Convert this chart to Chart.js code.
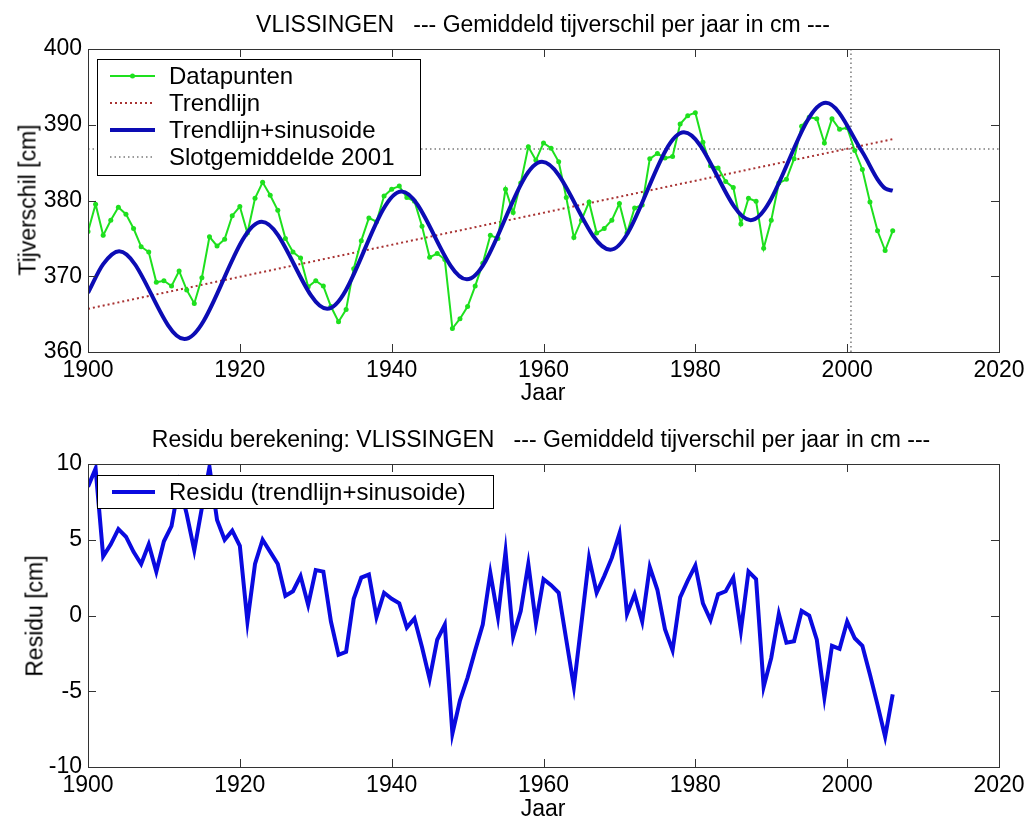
<!DOCTYPE html>
<html>
<head>
<meta charset="utf-8">
<script src="https://cdn.jsdelivr.net/npm/chart.js@4.4.1/dist/chart.umd.min.js"></script>
<style>
  body { margin: 0; background: #fff; width: 1036px; height: 828px; position: relative; overflow: hidden;
         font-family: "Liberation Sans", Arial, sans-serif; }
  canvas { position: absolute; left: 0; }
  .lbl { position: absolute; white-space: pre; font-size: 23px; line-height: 1; color: #000;
         transform: translate(-50%, -50%); }
  .rot { transform: translate(-50%, -50%) rotate(-90deg); }
</style>
</head>
<body>
<canvas id="topChart" width="1036" height="414" style="top:0"></canvas>
<canvas id="bottomChart" width="1036" height="414" style="top:414px"></canvas>

<div class="lbl" style="left:543px;top:24px">VLISSINGEN   --- Gemiddeld tijverschil per jaar in cm ---</div>
<div class="lbl" style="left:543px;top:392px">Jaar</div>
<div class="lbl rot" style="left:28px;top:200px">Tijverschil [cm]</div>
<div class="lbl" style="left:541px;top:439px">Residu berekening: VLISSINGEN   --- Gemiddeld tijverschil per jaar in cm ---</div>
<div class="lbl" style="left:543px;top:808px">Jaar</div>
<div class="lbl rot" style="left:35px;top:616px">Residu [cm]</div>

<script>
// Yearly mean tidal range, Vlissingen
const firstYear = 1900;
const tijverschil = [
  375.9, 379.5, 375.4, 377.4, 379.1, 378.2, 376.3, 373.9, 373.2, 369.2, // 1900-1909
  369.4, 368.7, 370.7, 368.2, 366.4, 369.8, 375.2, 374.0, 374.9, 378.0, // 1910-1919
  379.2, 375.7, 380.3, 382.4, 380.7, 378.7, 375.0, 373.2, 372.4, 368.6, // 1920-1929
  369.4, 368.7, 366.0, 364.0, 365.6, 371.0, 374.7, 377.7, 377.2, 380.6, // 1930-1939
  381.5, 381.9, 380.4, 379.9, 376.6, 372.5, 373.0, 372.2, 363.1, 364.4, // 1940-1949
  366.0, 368.7, 371.7, 375.4, 375.0, 381.5, 378.4, 382.3, 387.1, 385.3, // 1950-1959
  387.6, 386.9, 385.1, 380.4, 375.1, 377.4, 379.8, 375.7, 376.3, 377.4, // 1960-1969
  379.6, 375.7, 379.0, 379.4, 385.5, 386.2, 385.6, 385.8, 390.1, 391.2, // 1970-1979
  391.6, 387.7, 384.6, 384.3, 382.5, 381.7, 376.9, 380.3, 379.9, 373.7, // 1980-1989
  377.4, 382.3, 382.8, 385.5, 389.8, 391.0, 390.8, 387.6, 390.8, 389.4, // 1990-1999
  389.6, 386.6, 384.1, 379.8, 376.0, 373.4, 376.0                       // 2000-2006
];

// Residual of the trend+sinusoid fit, same years
const residu = [
   8.5,  9.7,  3.9,  4.7,  5.7,  5.2,  4.2,  3.4,  4.7,  2.9,
   4.9,  5.9,  8.7,  6.7,  4.3,  7.1,  9.8,  6.3,  5.0,  5.6,
   4.6, -0.4,  3.4,  5.0,  4.2,  3.4,  1.3,  1.6,  2.6,  0.7,
   3.0,  2.9, -0.4, -2.6, -2.4,  1.1,  2.5,  2.7, -0.1,  1.5,
   1.1,  0.8, -0.8, -0.2, -2.1, -4.2, -1.6, -0.6, -7.8, -5.6,
  -4.1, -2.3, -0.6,  2.8, -0.1,  4.2, -1.4,  0.3,  3.4, -0.5,
   2.4,  2.0,  1.5, -1.6, -4.7, -0.5,  3.8,  1.5,  2.6,  3.8,
   5.4,  0.1,  1.4, -0.4,  3.2,  1.7, -0.9, -2.3,  1.2,  2.3,
   3.3,  0.8, -0.3,  1.4,  1.6,  2.5, -1.0,  2.9,  2.4, -4.7,
  -2.8,  0.1, -1.8, -1.7,  0.3,  0.0, -1.6, -5.4, -2.0, -2.2,
  -0.4, -1.5, -2.0, -3.9, -5.9, -8.0, -5.2
];

const years = tijverschil.map((_, i) => firstYear + i);

// Trend + sinusoid curve: extremes and a few extra points
const fitYears  = [1900, 1902, 1904.1, 1912.7, 1922.9, 1931.5, 1941.3, 1949.9, 1959.8, 1968.8, 1978.5, 1987.3, 1997.2, 2002, 2004, 2005, 2006];
const fitValues = [367.8, 371.6, 373.3, 361.7, 377.2, 365.7, 381.2, 369.6, 385.1, 373.5, 389.0, 377.4, 392.9, 386.4, 382.8, 381.6, 381.3];

// Straight trend line
const trendYears  = [1900, 2006];
const trendValues = [365.7, 388.1];

// Final mean 2001 and the year marker
const slotYears = [1900, 2020];
const slotValue = 386.8;
const markerYear = 2000.5;

const xTicks = [1900, 1920, 1940, 1960, 1980, 2000, 2020];
const yTicksTop = [360, 370, 380, 390, 400];
const yTicksBottom = [-10, -5, 0, 5, 10];

const FONT = '"Liberation Sans", Arial, sans-serif';
const GREEN = '#1ee01e';
const BLUE_TOP = '#0c0cb4';
const BLUE_BOTTOM = '#0a0ae0';
const RED = '#a83232';
const GRAY = '#7a7a7a';

const pts = (xs, ys) => xs.map((x, i) => ({ x: x, y: ys[i] }));

// MATLAB-like box with inward ticks on all four sides, plus boxed legend
const matlabAxes = {
  id: 'matlabAxes',
  afterDraw(chart, args, opts) {
    const { ctx, chartArea: a, scales: { x, y } } = chart;
    ctx.save();
    ctx.strokeStyle = '#333';
    ctx.lineWidth = 1;
    ctx.strokeRect(a.left + 0.5, a.top + 0.5, a.right - a.left, a.bottom - a.top);
    const L = 8;
    ctx.beginPath();
    x.ticks.forEach(t => {
      const px = Math.round(x.getPixelForValue(t.value)) + 0.5;
      ctx.moveTo(px, a.bottom); ctx.lineTo(px, a.bottom - L);
      ctx.moveTo(px, a.top); ctx.lineTo(px, a.top + L);
    });
    y.ticks.forEach(t => {
      const py = Math.round(y.getPixelForValue(t.value)) + 0.5;
      ctx.moveTo(a.left, py); ctx.lineTo(a.left + L, py);
      ctx.moveTo(a.right, py); ctx.lineTo(a.right - L, py);
    });
    ctx.stroke();

    // legend
    const lg = opts.legend;
    if (lg) {
      ctx.fillStyle = '#fff';
      ctx.fillRect(lg.left, lg.top, lg.width, lg.height);
      ctx.strokeStyle = '#000';
      ctx.strokeRect(lg.left + 0.5, lg.top + 0.5, lg.width, lg.height);
      ctx.font = lg.fontSize + 'px ' + FONT;
      ctx.textBaseline = 'middle';
      lg.items.forEach((it, i) => {
        const cy = lg.firstRow + i * lg.rowGap;
        ctx.save();
        ctx.strokeStyle = it.color;
        ctx.lineWidth = it.width;
        ctx.setLineDash(it.dash || []);
        ctx.beginPath();
        ctx.moveTo(lg.lineX0, cy); ctx.lineTo(lg.lineX1, cy);
        ctx.stroke();
        if (it.marker) {
          ctx.fillStyle = it.color;
          ctx.beginPath();
          ctx.arc((lg.lineX0 + lg.lineX1) / 2, cy, 2.5, 0, Math.PI * 2);
          ctx.fill();
        }
        ctx.restore();
        ctx.fillStyle = '#000';
        ctx.fillText(it.text, lg.textX, cy + 1);
      });
    }
    ctx.restore();
  }
};

function scaleOpts(min, max, step, xHeight) {
  const tickFont = { family: FONT, size: 23 };
  return {
    x: {
      type: 'linear', min: 1900, max: 2020,
      afterBuildTicks: s => { s.ticks = xTicks.map(v => ({ value: v })); },
      ticks: { font: tickFont, color: '#000', padding: 5, maxRotation: 0, callback: v => String(v) },
      grid: { display: false, drawTicks: false },
      border: { display: false },
      afterFit: s => { s.height = xHeight; }
    },
    y: {
      type: 'linear', min: min, max: max,
      ticks: { stepSize: step, font: tickFont, color: '#000', padding: 6, callback: v => String(v) },
      grid: { display: false, drawTicks: false },
      border: { display: false },
      afterFit: s => { s.width = 88; }
    }
  };
}

Chart.defaults.font.family = FONT;

new Chart(document.getElementById('topChart'), {
  type: 'line',
  data: {
    datasets: [
      { label: 'Trendlijn+sinusoide', data: pts(fitYears, fitValues), order: 0,
        borderColor: BLUE_TOP, borderWidth: 4, pointRadius: 0, cubicInterpolationMode: 'monotone', fill: false },
      { label: 'Datapunten', data: pts(years, tijverschil), order: 1,
        borderColor: GREEN, backgroundColor: GREEN, borderWidth: 2, pointRadius: 2.5,
        pointBorderWidth: 0, tension: 0, fill: false },
      { label: 'Trendlijn', data: pts(trendYears, trendValues), order: 2,
        borderColor: RED, borderWidth: 2, borderDash: [2, 3], pointRadius: 0, fill: false },
      { label: 'Slotgemiddelde 2001', data: pts(slotYears, slotYears.map(() => slotValue)), order: 3,
        borderColor: GRAY, borderWidth: 1.5, borderDash: [1.5, 3], pointRadius: 0, fill: false },
      { label: 'jaar', data: pts([markerYear, markerYear], [yTicksTop[0], yTicksTop[yTicksTop.length - 1]]), order: 3,
        borderColor: GRAY, borderWidth: 1.5, borderDash: [1.5, 3], pointRadius: 0, fill: false }
    ]
  },
  options: {
    responsive: false, animation: false, devicePixelRatio: 1,
    layout: { padding: { left: 0, right: 37, top: 49, bottom: 0 } },
    scales: scaleOpts(360, 400, 10, 62),
    plugins: {
      legend: { display: false }, tooltip: { enabled: false }, title: { display: false },
      matlabAxes: {
        legend: {
          left: 97, top: 59, width: 323, height: 116, fontSize: 24,
          firstRow: 76, rowGap: 27, lineX0: 110, lineX1: 155, textX: 169,
          items: [
            { text: 'Datapunten', color: GREEN, width: 2, marker: true },
            { text: 'Trendlijn', color: RED, width: 2, dash: [2, 3] },
            { text: 'Trendlijn+sinusoide', color: BLUE_TOP, width: 4 },
            { text: 'Slotgemiddelde 2001', color: GRAY, width: 1.5, dash: [1.5, 3] }
          ]
        }
      }
    }
  },
  plugins: [matlabAxes]
});

new Chart(document.getElementById('bottomChart'), {
  type: 'line',
  data: {
    datasets: [
      { label: 'Residu (trendlijn+sinusoide)', data: pts(years, residu),
        borderColor: BLUE_BOTTOM, borderWidth: 4, pointRadius: 0, tension: 0, fill: false,
        borderJoinStyle: 'miter' }
    ]
  },
  options: {
    responsive: false, animation: false, devicePixelRatio: 1,
    layout: { padding: { left: 0, right: 37, top: 50, bottom: 0 } },
    scales: scaleOpts(-10, 10, 5, 61),
    plugins: {
      legend: { display: false }, tooltip: { enabled: false }, title: { display: false },
      matlabAxes: {
        legend: {
          left: 97, top: 61, width: 396, height: 33, fontSize: 24,
          firstRow: 78, rowGap: 27, lineX0: 112, lineX1: 155, textX: 169,
          items: [
            { text: 'Residu (trendlijn+sinusoide)', color: BLUE_BOTTOM, width: 4 }
          ]
        }
      }
    }
  },
  plugins: [matlabAxes]
});
</script>
</body>
</html>
